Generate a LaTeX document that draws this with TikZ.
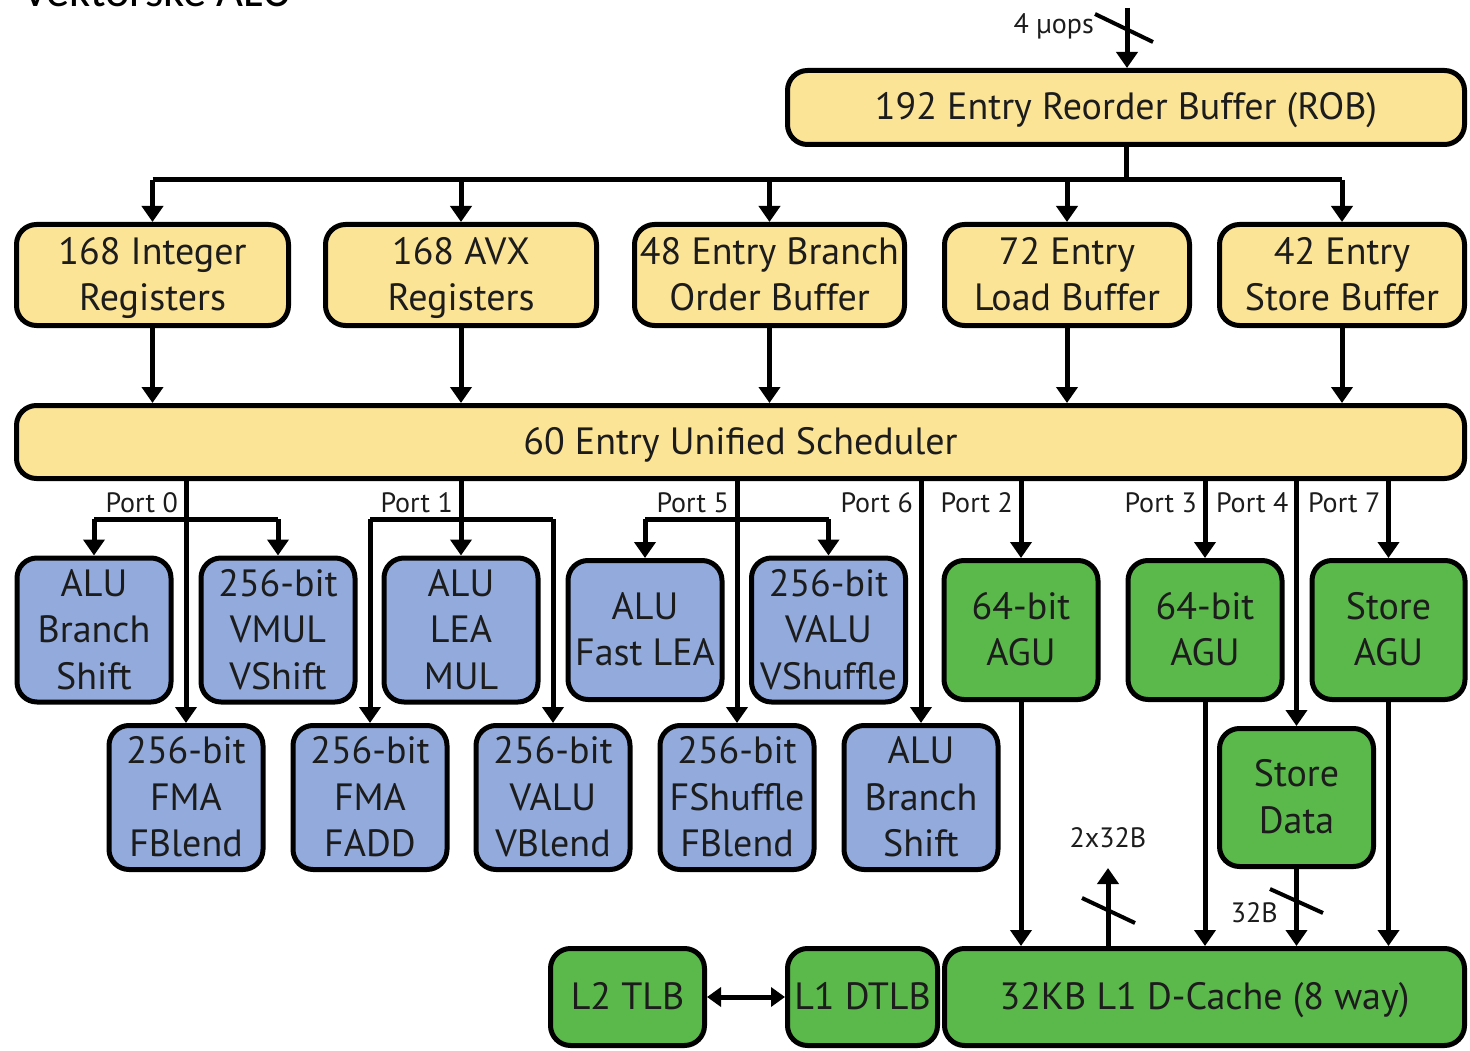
\documentclass[tikz,border=0pt]{standalone}
\usepackage{fontspec}
\setmainfont{PT Sans}
\newfontfamily\headfont{Carlito}
\usetikzlibrary{arrows.meta}
\definecolor{regyellow}{HTML}{FCE496}
\definecolor{alublue}{HTML}{92AADC}
\definecolor{memgreen}{HTML}{5BB84B}
\definecolor{inkgray}{HTML}{1C1C1C}
% fixed ascent / descent so every box centres its lines on the baselines
\newcommand\uphold{\rule{0pt}{38pt}}
\newcommand\downhold{\rule[-13pt]{0pt}{13pt}}

\begin{document}
\begin{tikzpicture}[x=1pt,y=-1pt,
  unitbox/.style={draw=black, line width=5pt, rounded corners=20pt, align=center,
    inner sep=0pt, text=inkgray, font=\fontsize{38}{46.5}\selectfont},
  buf/.style={unitbox, fill=regyellow},
  alu/.style={unitbox, fill=alublue, minimum width=154pt, minimum height=139pt},
  mem/.style={unitbox, fill=memgreen},
  wire/.style={line width=5pt},
  arr/.style={wire, -{Triangle[width=21pt,length=16pt]}},
  darr/.style={wire, {Triangle[width=19pt,length=14pt]}-{Triangle[width=19pt,length=14pt]}},
  slash/.style={line width=4pt},
  portlbl/.style={anchor=base east, inner sep=0pt, text=inkgray, font=\fontsize{28}{32}\selectfont},
  small/.style={inner sep=0pt, text=inkgray, font=\fontsize{28}{32}\selectfont}]

\useasboundingbox (0,0) rectangle (1470,1051);
\clip (0,0) rectangle (1470,1051);

% heading, partly above the frame
\node[anchor=base west, inner sep=0pt, font=\headfont\fontsize{46.5}{50}\selectfont] (title) at (22,7) {Vektorske ALU};

% reorder buffer and its input
\node[buf, minimum width=677pt, minimum height=74pt] (rob) at (1126,107.5) {\uphold 192 Entry Reorder Buffer (ROB)\downhold};
\coordinate (uopsin) at (1127,8);
\draw[arr] (uopsin) -- (uopsin |- rob.north);
\draw[slash] (1095,14) -- (1153,42);
\node[small, anchor=base east] (uops) at (1094,34) {4 µops};

% rename / buffer row
\node[buf, minimum width=272pt, minimum height=101pt] (intreg) at (152.5,275) {\uphold 168 Integer\\Registers\downhold};
\node[buf, minimum width=271pt, minimum height=101pt] (avxreg) at (461,275) {\uphold 168 AVX\\Registers\downhold};
\node[buf, minimum width=270pt, minimum height=101pt] (bob) at (769.5,275) {\uphold 48 Entry Branch\\Order Buffer\downhold};
\node[buf, minimum width=245pt, minimum height=101pt] (lb) at (1067,275) {\uphold 72 Entry\\Load Buffer\downhold};
\node[buf, minimum width=245pt, minimum height=101pt] (sb) at (1342,275) {\uphold 42 Entry\\Store Buffer\downhold};

\coordinate (bus) at (0,180);
\draw[wire] (rob.south) -- (rob.south |- bus);
\draw[wire] (intreg.north |- bus) -- (sb.north |- bus);
\foreach \n in {intreg,avxreg,bob,lb,sb}
  \draw[arr] (\n.north |- bus) -- (\n.north);

% scheduler
\node[buf, minimum width=1448pt, minimum height=73pt] (sched) at (740.5,442) {\uphold 60 Entry Unified Scheduler\downhold};
\foreach \n in {intreg,avxreg,bob,lb,sb}
  \draw[arr] (\n.south) -- (\n.south |- sched.north);

% execution units, first row
\node[alu] (alua) at (94,630) {\uphold ALU\\Branch\\Shift\downhold};
\node[alu] (vmul) at (278,630) {\uphold 256-bit\\VMUL\\VShift\downhold};
\node[alu] (alub) at (461,630) {\uphold ALU\\LEA\\MUL\downhold};
\node[alu] (aluc) at (645,630) {\uphold ALU\\Fast LEA\downhold};
\node[alu] (valua) at (828.5,630) {\uphold 256-bit\\VALU\\VShuffle\downhold};
\node[mem, minimum width=154pt, minimum height=139pt] (agua) at (1021,630) {\uphold 64-bit\\AGU\downhold};
\node[mem, minimum width=154pt, minimum height=139pt] (agub) at (1205,630) {\uphold 64-bit\\AGU\downhold};
\node[mem, minimum width=153pt, minimum height=139pt] (agus) at (1388.5,630) {\uphold Store\\AGU\downhold};

% execution units, second row
\node[alu, minimum height=138pt] (fmaa) at (186,797.5) {\uphold 256-bit\\FMA\\FBlend\downhold};
\node[alu, minimum height=138pt] (fmab) at (370,797.5) {\uphold 256-bit\\FMA\\FADD\downhold};
\node[alu, minimum height=138pt] (valub) at (553,797.5) {\uphold 256-bit\\VALU\\VBlend\downhold};
\node[alu, minimum height=138pt] (fshuf) at (737,797.5) {\uphold 256-bit\\FShuffle\\FBlend\downhold};
\node[alu, minimum height=138pt] (alud) at (921,797.5) {\uphold ALU\\Branch\\Shift\downhold};
\node[mem, minimum width=154pt, minimum height=138pt] (sdata) at (1296.5,797.5) {\uphold Store\\Data\downhold};

% issue ports
\coordinate (fork) at (0,519);
\coordinate (plbl) at (0,512);

% port 0
\draw[arr] (fmaa.north |- sched.south) -- (fmaa.north);
\draw[wire] (alua.north |- fork) -- (vmul.north |- fork);
\draw[arr] (alua.north |- fork) -- (alua.north);
\draw[arr] (vmul.north |- fork) -- (vmul.north);
\node[portlbl] (p0) at ([xshift=-8pt]fmaa.north |- plbl) {Port 0};

% port 1
\draw[arr] (alub.north |- sched.south) -- (alub.north);
\draw[wire] (fmab.north |- fork) -- (valub.north |- fork);
\draw[arr] (fmab.north |- fork) -- (fmab.north);
\draw[arr] (valub.north |- fork) -- (valub.north);
\node[portlbl] (p1) at ([xshift=-8pt]alub.north |- plbl) {Port 1};

% port 5
\draw[arr] (fshuf.north |- sched.south) -- (fshuf.north);
\draw[wire] (aluc.north |- fork) -- (valua.north |- fork);
\draw[arr] (aluc.north |- fork) -- (aluc.north);
\draw[arr] (valua.north |- fork) -- (valua.north);
\node[portlbl] (p5) at ([xshift=-8pt]fshuf.north |- plbl) {Port 5};

% port 6
\draw[arr] (alud.north |- sched.south) -- (alud.north);
\node[portlbl] (p6) at ([xshift=-8pt]alud.north |- plbl) {Port 6};

% ports 2, 3, 4, 7
\draw[arr] (agua.north |- sched.south) -- (agua.north);
\node[portlbl] (p2) at ([xshift=-8pt]agua.north |- plbl) {Port 2};
\draw[arr] (agub.north |- sched.south) -- (agub.north);
\node[portlbl] (p3) at ([xshift=-8pt]agub.north |- plbl) {Port 3};
\draw[arr] (sdata.north |- sched.south) -- (sdata.north);
\node[portlbl] (p4) at ([xshift=-8pt]sdata.north |- plbl) {Port 4};
\draw[arr] (agus.north |- sched.south) -- (agus.north);
\node[portlbl] (p7) at ([xshift=-8pt]agus.north |- plbl) {Port 7};

% memory subsystem
\node[mem, minimum width=154pt, minimum height=97pt] (ltwo) at (627.5,997) {\uphold L2 TLB\downhold};
\node[mem, minimum width=150pt, minimum height=97pt] (dtlb) at (862.5,997) {\uphold L1 DTLB\downhold};
\node[mem, minimum width=520pt, minimum height=97pt] (dcache) at (1204.5,997) {\uphold 32KB L1 D-Cache (8 way)\downhold};
\draw[darr] (ltwo.east) -- (dtlb.west);

\draw[arr] (agua.south) -- (agua.south |- dcache.north);
\draw[arr] (agub.south) -- (agub.south |- dcache.north);
\draw[arr] (sdata.south) -- (sdata.south |- dcache.north);
\draw[arr] (agus.south) -- (agus.south |- dcache.north);
\draw[slash] (1270,889) -- (1323,913);
\node[small, anchor=base east] (w32) at (1278,922) {32B};

\coordinate (loadout) at (1108,868);
\draw[arr] (dcache.north -| loadout) -- (loadout);
\draw[slash] (1082,898) -- (1135,923);
\node[small, anchor=base] (r64) at (1108,847) {2x32B};

\end{tikzpicture}
\end{document}
